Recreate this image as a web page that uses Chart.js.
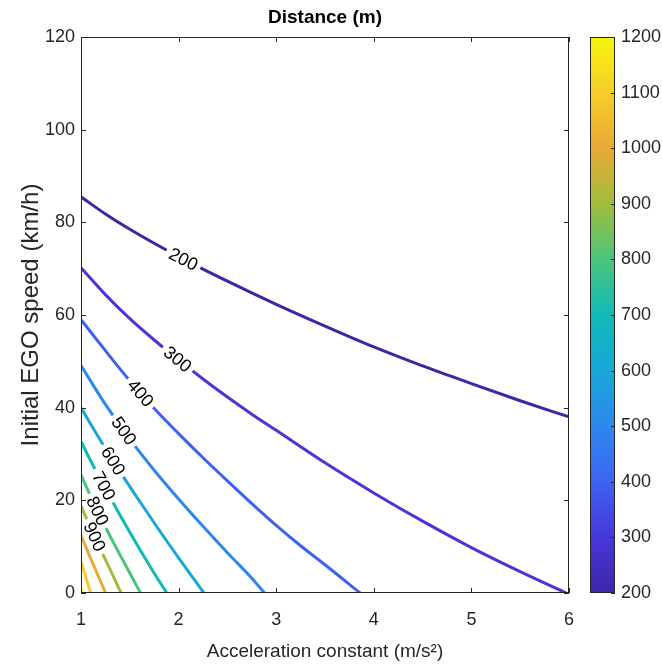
<!DOCTYPE html>
<html>
<head>
<meta charset="utf-8">
<script src="https://cdn.jsdelivr.net/npm/chart.js@4.4.1/dist/chart.umd.min.js"></script>
<style>
  html, body { margin: 0; padding: 0; background: #fff; }
</style>
</head>
<body>
<canvas id="distChart" width="662" height="668"></canvas>
<script>
// contour levels of the distance (m)
const levels = [200, 300, 400, 500, 600, 700, 800, 900, 1000, 1100, 1200];

// each contour line: acceleration constant (m/s2) -> initial EGO speed (km/h)
const accel200 = [1, 1.25, 1.5, 2, 2.5, 3, 3.5, 4, 4.5, 5, 5.5, 6];
const speed200 = [85.5, 81.8, 78.5, 72.6, 67.3, 62.3, 57.6, 53.1, 49.0, 45.2, 41.5, 38];
const accel300 = [1, 1.25, 1.5, 1.75, 2, 2.25, 2.5, 2.75, 3, 3.5, 4, 4.5, 5, 5.5, 5.97];
const speed300 = [70.2, 64.4, 59.2, 54.6, 50.3, 46.2, 42.3, 38.6, 35.1, 28.1, 21.6, 15.5, 9.8, 4.6, 0];
const accel400 = [1, 1.25, 1.5, 1.75, 2, 2.25, 2.5, 2.75, 3, 3.25, 3.5, 3.86];
const speed400 = [59, 52.3, 45.8, 39.8, 34.4, 29.2, 24.2, 19.3, 14.6, 10.2, 6.1, 0];
const accel500 = [1, 1.25, 1.5, 1.75, 2, 2.25, 2.5, 2.75, 2.88];
const speed500 = [49.1, 40.7, 33.2, 26.5, 20.3, 14.4, 8.7, 3.2, 0];
const accel600 = [1, 1.1, 1.2, 1.4, 1.6, 1.8, 2, 2.15, 2.26];
const speed600 = [40, 36.4, 32.9, 26.2, 19.8, 13.6, 7.6, 3.2, 0];
const accel700 = [1, 1.1, 1.2, 1.3, 1.4, 1.5, 1.6, 1.7, 1.8, 1.88];
const speed700 = [32.7, 28.5, 24.5, 20.6, 16.8, 13.1, 9.5, 6, 2.6, 0];
const accel800 = [1, 1.1, 1.2, 1.3, 1.4, 1.5, 1.61];
const speed800 = [25.5, 20.8, 16.4, 12.2, 8.2, 4.3, 0];
const accel900 = [1, 1.1, 1.2, 1.3, 1.41];
const speed900 = [18.8, 14, 9.4, 5, 0];
const accel1000 = [1, 1.1, 1.2, 1.253];
const speed1000 = [12.5, 7.4, 2.5, 0];
const accel1100 = [1, 1.05, 1.1];
const speed1100 = [6.8, 3.4, 0];
const accel1200 = [1, 1.012];
const speed1200 = [1, 0];

// inline contour labels (level, acceleration where it sits)
const labelLevels = [200, 300, 400, 500, 600, 700, 800, 900];
const labelAccel = [2.05, 1.99, 1.61, 1.44, 1.33, 1.235, 1.17, 1.14];

const accelLists = [accel200, accel300, accel400, accel500, accel600, accel700, accel800, accel900, accel1000, accel1100, accel1200];
const speedLists = [speed200, speed300, speed400, speed500, speed600, speed700, speed800, speed900, speed1000, speed1100, speed1200];

// parula-like colours for 200..1200
const lineColors = ['#3e26a8', '#4737d9', '#3d63f2', '#2d88ec', '#19a7d8', '#10bab8', '#4cc47e', '#9fbe3b', '#eaa935', '#f7cd2a', '#f5f50e'];

const ink = '#262626';
const labelFont = '18px "Liberation Sans", Arial, sans-serif';
Chart.defaults.font.family = '"Liberation Sans", Arial, sans-serif';
Chart.defaults.color = ink;

function labelGeom(chart, i) {
    const k = labelLevels.indexOf(levels[i]);
    if (k < 0) return null;
    const pts = chart.getDatasetMeta(i).data;
    const px = chart.scales.x.getPixelForValue(labelAccel[k]);
    for (let j = 1; j < pts.length; j++) {
        const a = pts[j - 1], b = pts[j];
        if (px >= a.x && px <= b.x) {
            const t = (px - a.x) / (b.x - a.x);
            return { x: px, y: a.y + t * (b.y - a.y), angle: Math.atan2(b.y - a.y, b.x - a.x), text: String(levels[i]) };
        }
    }
    return null;
}

const contourDecor = {
    id: 'contourDecor',
    beforeDatasetDraw(chart, args) {
        const g = labelGeom(chart, args.index);
        if (!g) return;
        const ctx = chart.ctx;
        ctx.save();
        ctx.font = labelFont;
        const w = ctx.measureText(g.text).width + 8, h = 18;
        const c = Math.cos(g.angle), s = Math.sin(g.angle);
        const pts = [[-w / 2, -h / 2], [w / 2, -h / 2], [w / 2, h / 2], [-w / 2, h / 2]]
            .map(([u, v]) => [g.x + u * c - v * s, g.y + u * s + v * c]);
        ctx.beginPath();
        ctx.rect(0, 0, chart.width, chart.height);
        ctx.moveTo(pts[0][0], pts[0][1]);
        for (let j = 1; j < 4; j++) ctx.lineTo(pts[j][0], pts[j][1]);
        ctx.closePath();
        ctx.clip('evenodd');
        chart.$gapIndex = args.index;
    },
    afterDatasetDraw(chart, args) {
        if (chart.$gapIndex === args.index) {
            chart.ctx.restore();
            chart.$gapIndex = -1;
        }
    },
    afterDatasetsDraw(chart) {
        const ctx = chart.ctx;
        levels.forEach((lv, i) => {
            const g = labelGeom(chart, i);
            if (!g) return;
            ctx.save();
            ctx.translate(g.x, g.y);
            ctx.rotate(g.angle);
            ctx.font = labelFont;
            ctx.fillStyle = '#000';
            ctx.textAlign = 'center';
            ctx.textBaseline = 'middle';
            ctx.fillText(g.text, 0, 1);
            ctx.restore();
        });
    },
    afterDraw(chart) {
        const ctx = chart.ctx;
        const { left, right, top, bottom } = chart.chartArea;
        const xs = chart.scales.x, ys = chart.scales.y, cb = chart.scales.cb;
        ctx.save();
        // title
        ctx.fillStyle = '#000';
        ctx.font = 'bold 19px "Liberation Sans", Arial, sans-serif';
        ctx.textAlign = 'center';
        ctx.textBaseline = 'middle';
        ctx.fillText('Distance (m)', (left + right) / 2, 18);
        ctx.strokeStyle = ink;
        ctx.lineWidth = 1;
        // axes box with inward ticks
        ctx.strokeRect(left + 0.5, top + 0.5, right - left - 1, bottom - top - 1);
        ctx.beginPath();
        xs.ticks.forEach(t => {
            const p = Math.round(xs.getPixelForValue(t.value)) + 0.5;
            ctx.moveTo(p, bottom); ctx.lineTo(p, bottom - 5);
            ctx.moveTo(p, top); ctx.lineTo(p, top + 5);
        });
        ys.ticks.forEach(t => {
            const p = Math.round(ys.getPixelForValue(t.value)) + 0.5;
            ctx.moveTo(left, p); ctx.lineTo(left + 5, p);
            ctx.moveTo(right, p); ctx.lineTo(right - 5, p);
        });
        ctx.stroke();
        // colour bar
        const bx = right + 21, bw = 25;
        const grad = ctx.createLinearGradient(0, bottom, 0, top);
        lineColors.forEach((c, i) => grad.addColorStop(i / (lineColors.length - 1), c));
        ctx.fillStyle = grad;
        ctx.fillRect(bx, top, bw, bottom - top);
        ctx.strokeRect(bx + 0.5, top + 0.5, bw - 1, bottom - top - 1);
        ctx.beginPath();
        cb.ticks.forEach(t => {
            const p = Math.round(cb.getPixelForValue(t.value)) + 0.5;
            ctx.moveTo(bx + bw, p); ctx.lineTo(bx + bw - 4, p);
        });
        ctx.stroke();
        ctx.restore();
    }
};

new Chart(document.getElementById('distChart'), {
    type: 'line',
    data: {
        datasets: levels.map((lv, i) => ({
            label: String(lv),
            data: accelLists[i].map((a, j) => ({ x: a, y: speedLists[i][j] })),
            borderColor: lineColors[i],
            borderWidth: 3,
            pointRadius: 0,
            cubicInterpolationMode: 'monotone',
            fill: false
        }))
    },
    options: {
        responsive: false,
        animation: false,
        devicePixelRatio: 1,
        layout: { padding: { top: 37, left: 0, right: 0, bottom: 0 } },
        plugins: {
            legend: { display: false },
            tooltip: { enabled: false },
            title: { display: false }
        },
        scales: {
            x: {
                type: 'linear',
                min: 1,
                max: 6,
                ticks: { stepSize: 1, font: { size: 18 }, padding: 16, maxRotation: 0 },
                grid: { display: false, drawTicks: false },
                border: { display: false },
                title: { display: true, text: 'Acceleration constant (m/s²)', font: { size: 19 }, color: ink, padding: { top: 0, bottom: 5 } },
                afterFit: s => { s.height = 75; }
            },
            y: {
                min: 0,
                max: 120,
                ticks: { stepSize: 20, font: { size: 18 }, padding: 6 },
                grid: { display: false, drawTicks: false },
                border: { display: false },
                title: { display: true, text: 'Initial EGO speed (km/h)', font: { size: 24 }, color: ink, padding: { top: 17, bottom: 0 } },
                afterFit: s => { s.width = 81; }
            },
            cb: {
                type: 'linear',
                position: 'right',
                min: 200,
                max: 1200,
                ticks: { stepSize: 100, font: { size: 18 }, padding: 52, callback: v => String(v) },
                grid: { display: false, drawTicks: false },
                border: { display: false },
                afterFit: s => { s.width = 93; s.paddingTop = 11; s.paddingBottom = 11; }
            }
        }
    },
    plugins: [contourDecor]
});
</script>
</body>
</html>
